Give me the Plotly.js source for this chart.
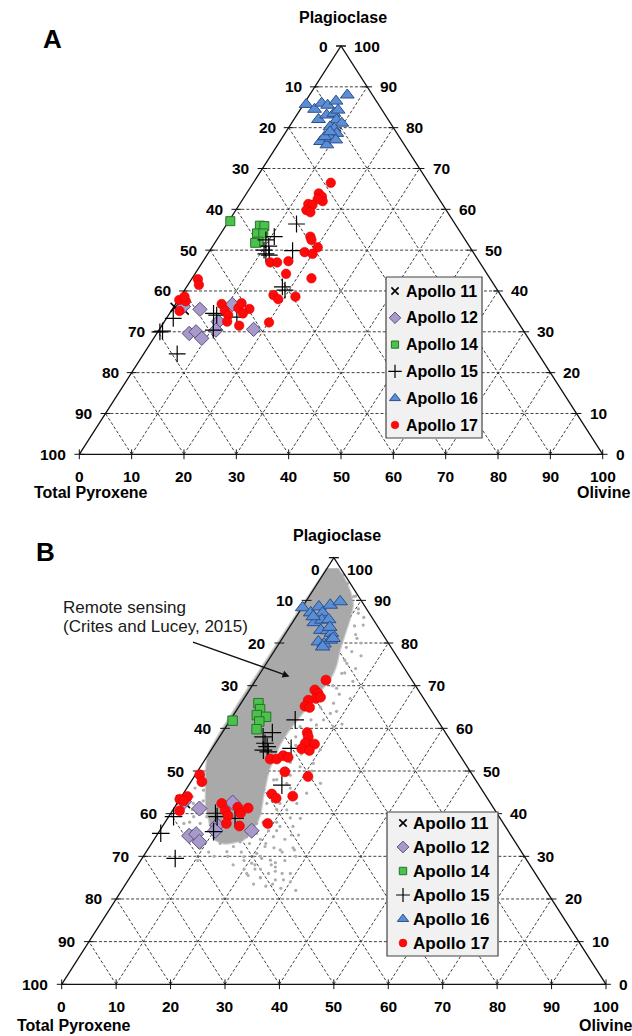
<!DOCTYPE html>
<html><head><meta charset="utf-8">
<script src="https://cdn.plot.ly/plotly-3.0.1.min.js"></script>
<style>html,body{margin:0;padding:0;background:#fff;}#chart{width:632px;height:1036px;}</style>
</head><body><div id="chart"></div>
<script>
// ---------------- DATA ----------------
const gridTicks = [0,10,20,30,40,50,60,70,80,90,100];
const leftTickLabels   = ['0','10','20','30','40','50','60','70','80','90','100'];   // top -> bottom
const rightTickLabels  = ['100','90','80','70','60','50','40','30','20','10','0'];   // top -> bottom
const bottomTickLabels = ['0','10','20','30','40','50','60','70','80','90','100'];   // left -> right
const vertexNames = ['Plagioclase','Total Pyroxene','Olivine'];
const seriesNames = ['Apollo 11','Apollo 12','Apollo 14','Apollo 15','Apollo 16','Apollo 17'];
const panelLetters = ['A','B'];
const rsLabel = ['Remote sensing','(Crites and Lucey, 2015)'];

// Panel A: plagioclase % and olivine % (pyroxene = remainder)
const A_apollo11_plag = [36.0, 35.3];
const A_apollo11_oliv = [0.3, 2.4];
const A_apollo12_plag = [35.5, 29.6, 30.0, 28.4, 32.5, 30.4, 36.7, 30.6, 36.2];
const A_apollo12_oliv = [5.3, 6.2, 7.3, 9.2, 10.3, 10.9, 10.9, 18.0, 1.8];
const A_apollo14_plag = [57.1, 56.0, 55.9, 54.1, 54.1, 52.1, 51.8];
const A_apollo14_oliv = [0.3, 6.5, 7.4, 6.9, 8.1, 8.2, 7.7];
const A_apollo15_plag = [56.4, 53.3, 52.5, 51.0, 50.0, 49.1, 48.8, 49.9, 41.0, 40.2, 33.3, 30.0, 30.2, 24.6, 34.5, 34.1, 30.4, 33.6];
const A_apollo15_oliv = [13.3, 10.6, 9.4, 10.7, 10.3, 11.1, 11.9, 15.8, 18.3, 19.2, 1.3, 0.4, 0.8, 6.4, 8.4, 9.2, 10.4, 13.3];
const A_apollo16_plag = [85.7, 84.5, 86.0, 85.5, 86.5, 88.0, 82.0, 83.1, 83.5, 84.3, 81.9, 81.1, 80.2, 79.8, 78.6, 76.6, 75.8, 77.4, 77.0, 77.8, 79.0];
const A_apollo16_oliv = [0.5, 2.7, 3.3, 4.7, 5.8, 7.2, 4.7, 5.7, 6.9, 7.3, 8.2, 9.6, 7.8, 8.8, 9.9, 7.8, 9.4, 9.3, 10.5, 8.0, 8.4];
const A_apollo17_plag = [66.5, 63.9, 63.1, 62.0, 62.5, 61.3, 61.1, 59.8, 59.3,
  53.3, 52.5, 50.7, 49.5, 49.1, 47.0, 47.0, 47.3, 44.2, 43.1, 39.0, 38.0, 38.6, 32.3,
  42.9, 41.5, 37.8, 37.5, 38.6, 35.1, 36.8, 35.2, 34.1, 32.5, 35.8, 37.0, 35.6, 34.5, 31.5];
const A_apollo17_oliv = [14.8, 13.8, 14.8, 15.5, 14.3, 13.1, 14.0, 13.5, 14.5,
  17.5, 18.1, 20.2, 18.3, 20.0, 13.0, 14.3, 16.3, 17.4, 22.8, 17.6, 19.0, 22.0, 20.1,
  1.2, 2.1, 0.2, 1.6, 0.8, 1.6, 8.8, 10.2, 11.4, 12.0, 12.5, 12.5, 14.7, 14.0, 14.8];

// Panel B
const B_apollo11_plag = [43.2, 42.4];
const B_apollo11_oliv = [0.3, 1.5];
const B_apollo12_plag = [42.6, 41.2, 37.3, 36.0, 34.8, 35.2, 33.4, 36.0, 42.8];
const B_apollo12_oliv = [10.1, 4.7, 9.9, 10.2, 6.0, 7.1, 8.6, 16.9, 1.1];
const B_apollo14_plag = [61.8, 65.9, 64.5, 63.1, 62.7, 61.6, 59.8];
const B_apollo14_oliv = [0.5, 3.2, 4.2, 4.3, 6.2, 5.5, 5.9];
const B_apollo15_plag = [62.0, 58.0, 59.0, 56.5, 55.7, 54.9, 54.5, 55.3, 46.7, 40.1, 39.3, 38.9, 35.8, 39.3, 35.4, 29.5];
const B_apollo15_oliv = [11.9, 8.0, 9.2, 9.1, 9.9, 9.6, 10.7, 14.5, 17.1, 8.2, 8.9, 12.4, 10.0, 0.9, 0.5, 6.1];
const B_apollo16_plag = [88.3, 87.1, 88.5, 87.1, 88.9, 89.7, 84.8, 85.4, 85.5, 83.0, 82.9, 82.3, 83.7, 80.3, 79.8, 80.7, 81.1, 79.1, 86.2];
const B_apollo16_oliv = [0.1, 2.2, 3.0, 4.4, 4.9, 6.3, 4.0, 5.1, 6.3, 6.1, 7.4, 8.4, 7.4, 7.0, 8.3, 9.0, 9.3, 8.4, 3.1];
const B_apollo17_plag = [71.3, 69.0, 68.2, 67.0, 66.6, 65.2, 64.9, 67.3,
  59.0, 58.0, 56.5, 56.3, 55.2, 54.8, 52.8, 52.8, 53.6, 53.2, 49.8, 48.7, 44.6, 43.6, 44.1, 37.7,
  49.1, 47.5, 43.4, 44.0, 43.0, 40.7, 42.4, 40.7, 39.5, 37.7, 41.5, 40.1, 41.3, 37.1];
const B_apollo17_oliv = [12.9, 12.0, 13.0, 13.2, 12.0, 12.1, 13.1, 13.9,
  15.6, 16.3, 16.5, 18.3, 16.5, 18.1, 11.9, 13.1, 13.9, 15.0, 16.1, 20.9, 16.3, 17.6, 20.4, 19.0,
  0.8, 2.0, 0.0, 1.1, 0.9, 1.3, 8.2, 9.7, 10.8, 11.4, 11.6, 12.8, 13.6, 14.1];

// Remote sensing (Crites and Lucey, 2015): dense core outline and scattered outliers
const rsCore_plag = [97.5, 54, 50, 46, 42, 39, 36, 34, 33, 34, 37, 40, 44, 47, 50, 53, 56, 60, 64, 68, 72, 75, 78, 82, 86, 89, 92, 95, 97.5];
const rsCore_oliv = [0, 0, 1.5, 3.5, 5.5, 7.5, 9.5, 11, 13.5, 16.5, 17, 16.5, 15, 14, 13, 12.5, 12, 12, 12.5, 13, 13.5, 13, 12, 11, 10, 9, 7, 4.5, 2];
const rsDots_plag = [90.9, 87.0, 84.2, 81.1, 78.0, 75.2, 72.9, 69.4, 65.9, 63.5, 62.0, 60.4, 60.8, 60.4, 51.8, 51.0, 47.1, 44.8, 42.4, 40.9,
  38.9, 37.0, 35.0, 34.6, 32.3, 31.5, 30.7, 29.1, 28.4, 29.9, 32.3, 34.6, 35.4, 33.4, 31.1, 33.0, 37.7, 40.1, 42.4, 43.2,
  42.4, 47.1, 47.9, 49.5, 47.1, 45.5, 42.4, 37.7, 39.3, 37.7, 39.3, 42.4, 45.5, 27.5, 26.0, 24.5, 29.0, 31.5,
  88, 86, 84, 82, 80, 79, 77, 76, 74, 73, 71, 70, 68, 67, 65, 64, 62, 61, 59, 58, 57, 56, 55, 54, 53, 52, 50, 49, 48, 46,
  45, 44, 43, 41, 39, 38, 36, 35, 34, 33, 32, 31, 30, 29, 28, 27, 26, 25, 23.5, 30, 28, 26,
  53, 51, 49, 48, 46, 44, 43, 41, 40, 38, 36, 35, 34, 32, 31, 30, 29, 94, 91, 96,
  27, 27, 26.5, 26, 25, 24.5, 24, 23, 22.5, 22, 28, 28.5, 29.5, 30, 31, 32, 33, 34, 35, 36, 37, 38, 23.5, 25.5];
const rsDots_oliv = [8.2, 11.0, 13.3, 13.7, 14.3, 14.8, 15.0, 15.8, 17.0, 17.6, 17.1, 19.7, 16.4, 13.6, 20.3, 18.3, 24.0, 22.6, 22.0, 20.9,
  24.4, 21.6, 24.7, 21.6, 21.2, 24.4, 20.5, 23.8, 20.7, 18.5, 15.4, 16.7, 18.1, 16.1, 14.8, 12.6, 17.0, 16.4, 16.5, 13.9,
  18.9, 17.8, 15.0, 13.0, 3.7, 3.3, 3.0, 6.6, 4.6, 3.6, 7.0, 6.0, 5.2, 25.5, 27.5, 28.5, 26.5, 27.0,
  10.5, 12.5, 11.8, 13, 15, 12.8, 16.5, 14, 17, 15.5, 18, 14.8, 17, 19.5, 15, 18.5, 14.8, 21, 16, 14, 18, 15, 20, 17, 14.5, 16, 21, 17.5, 15.5, 19,
  16.5, 20.5, 18, 19, 22.5, 18, 20, 17.5, 19.5, 18, 23, 17.5, 21.5, 19, 24.5, 22, 25, 24, 27, 15.5, 17.5, 21,
  1.2, 3, 2.5, 5, 1.5, 2, 4.5, 3.5, 5.5, 4.5, 6, 8, 7, 9.5, 11.5, 13, 10.5, 5.5, 8.5, 3.8,
  20, 23, 26, 29, 24, 27, 30, 26, 29, 32, 21.5, 25, 22, 28, 25, 26.5, 21, 24, 26, 21.5, 24, 20.5, 23.5, 21.5];

// ---------------- STYLE / LAYOUT ----------------
const FONT = 'Liberation Sans, Arial, Helvetica, sans-serif';
const W = 632, H = 1036;
const styles = [
  {symbol:'x-thin',     size:9,  color:'#000', line:{color:'#000', width:1.6}},
  {symbol:'diamond',    size:11, color:'#a79ac9', line:{color:'#5d4d80', width:1}},
  {symbol:'square',     size:9,  color:'#4dc14d', line:{color:'#267326', width:1}},
  {symbol:'cross-thin', size:12, color:'#000', line:{color:'#000', width:1.2}},
  {symbol:'triangle-up',size:12, color:'#5a8fd5', line:{color:'#2c4e8c', width:1}},
  {symbol:'circle',     size:9.5,color:'#ff0a0a', line:{color:'#e00000', width:0.6}}
];

const panels = [
  {xa:'x', ya:'y', geom:{left:79.3,right:602.7,top:46,bottom:454.3,y0:0,y1:518},
   data:[[A_apollo11_plag,A_apollo11_oliv],[A_apollo12_plag,A_apollo12_oliv],[A_apollo14_plag,A_apollo14_oliv],
         [A_apollo15_plag,A_apollo15_oliv],[A_apollo16_plag,A_apollo16_oliv],[A_apollo17_plag,A_apollo17_oliv]],
   sizeScale:1, remote:false,
   lab:{left:-11,right:11,bottom:-12,topDrop:0,plagY:28.5,plagX:2,pyrX:-47,pyrY:-38,olX:1,olY:-38},
   letter:{x:52,y:39},
   legend:{x0:386,x1:482,y0:277,y1:438,first:291,step:26.8,symX:395,textX:404,font:16,sym:0.8}},
  {xa:'x2', ya:'y2', geom:{left:61.7,right:606,top:557.7,bottom:984.3,y0:518,y1:1036},
   data:[[B_apollo11_plag,B_apollo11_oliv],[B_apollo12_plag,B_apollo12_oliv],[B_apollo14_plag,B_apollo14_oliv],
         [B_apollo15_plag,B_apollo15_oliv],[B_apollo16_plag,B_apollo16_oliv],[B_apollo17_plag,B_apollo17_oliv]],
   sizeScale:1.05, remote:true,
   lab:{left:-12,right:11,bottom:-12,topDrop:-12,plagY:22,plagX:3,pyrX:-47,pyrY:-41,olX:-1,olY:-41},
   letter:{x:45.5,y:551.5},
   legend:{x0:387,x1:498,y0:812,y1:956,first:823,step:24,symX:403,textX:411,font:17,sym:0.82}}
];

function xu(p,o){ return o + p/2; }
const traces = [];
const annotations = [];
const layout = {width:W, height:H, margin:{l:0,r:0,t:0,b:0}, paper_bgcolor:'#fff', plot_bgcolor:'rgba(0,0,0,0)',
  showlegend:false, annotations:annotations};

panels.forEach((pn, k) => {
  const g = pn.geom;
  const sx = (g.right-g.left)/100, sy = (g.bottom-g.top)/100;
  const xs = k===0 ? '' : String(k+1);
  layout['xaxis'+xs] = {domain:[0,1], range:[-g.left/sx, (W-g.left)/sx], visible:false, fixedrange:true, anchor:pn.ya};
  layout['yaxis'+xs] = {domain:[1-g.y1/H, 1-g.y0/H], range:[(g.bottom-g.y1)/sy, (g.bottom-g.y0)/sy], visible:false, fixedrange:true, anchor:pn.xa};

  // grid lines
  const gx=[], gy=[];
  gridTicks.slice(1,-1).forEach(t => {
    gx.push(xu(t,0), xu(t,100-t), null); gy.push(t, t, null);             // constant plagioclase
    gx.push(xu(0,t), xu(100-t,t), null); gy.push(0, 100-t, null);         // constant olivine
    gx.push(xu(0,100-t), xu(100-t,0), null); gy.push(0, 100-t, null);     // constant pyroxene
  });
  traces.push({x:gx, y:gy, xaxis:pn.xa, yaxis:pn.ya, mode:'lines', hoverinfo:'skip',
    line:{color:'#2a2a2a', width:0.9, dash:'3px,2px'}});

  // remote sensing cloud
  if (pn.remote) {
    traces.push({x:rsDots_plag.map((p,i)=>xu(p,rsDots_oliv[i])), y:rsDots_plag, xaxis:pn.xa, yaxis:pn.ya,
      mode:'markers', marker:{size:3.2, color:'#adadad'}, hoverinfo:'skip'});
    traces.push({x:rsCore_plag.map((p,i)=>xu(p,rsCore_oliv[i])), y:rsCore_plag, xaxis:pn.xa, yaxis:pn.ya,
      mode:'lines', fill:'toself', fillcolor:'#a9a9a9', line:{width:2.5, color:'rgba(169,169,169,0.55)', shape:'spline', smoothing:0.6}, hoverinfo:'skip'});
  }

  // triangle edges
  traces.push({x:[xu(0,0), xu(0,100), xu(100,0), xu(0,0)], y:[0,0,100,0], xaxis:pn.xa, yaxis:pn.ya,
    mode:'lines', line:{color:'#111', width:1.3}, hoverinfo:'skip'});
  // tick marks
  traces.push({x:gridTicks.map(t=>xu(0,t)), y:gridTicks.map(()=>0), xaxis:pn.xa, yaxis:pn.ya, mode:'markers',
    marker:{symbol:'line-ns', size:7, line:{color:'#111', width:1}}, hoverinfo:'skip'});
  traces.push({x:gridTicks.map(t=>xu(100-t,0)).concat(gridTicks.map(t=>xu(100-t,t))),
    y:gridTicks.map(t=>100-t).concat(gridTicks.map(t=>100-t)), xaxis:pn.xa, yaxis:pn.ya, mode:'markers',
    marker:{symbol:'line-ew', size:7, line:{color:'#111', width:1}}, hoverinfo:'skip'});

  // data series
  pn.data.forEach((d, i) => {
    const st = styles[i];
    traces.push({name:seriesNames[i], x:d[0].map((p,j)=>xu(p,d[1][j])), y:d[0], xaxis:pn.xa, yaxis:pn.ya,
      mode:'markers', marker:{symbol:st.symbol, size:st.size*pn.sizeScale, color:st.color,
      line:{color:st.line.color, width:st.line.width}}, hoverinfo:'skip'});
  });

  // tick labels
  const L = pn.lab;
  const f15 = {family:FONT, size:15.5, color:'#000'};
  gridTicks.forEach((t, i) => {
    const p = 100 - t;
    annotations.push({xref:pn.xa, yref:pn.ya, x:xu(p,0), y:p, text:'<b>'+leftTickLabels[i]+'</b>', showarrow:false,
      xanchor:'right', yanchor:'middle', xshift:L.left, yshift:(i===0?L.topDrop:0), font:f15});
    annotations.push({xref:pn.xa, yref:pn.ya, x:xu(p,100-p), y:p, text:'<b>'+rightTickLabels[i]+'</b>', showarrow:false,
      xanchor:'left', yanchor:'middle', xshift:L.right, yshift:(i===0?L.topDrop:0), font:f15});
    annotations.push({xref:pn.xa, yref:pn.ya, x:xu(0,t), y:0, text:'<b>'+bottomTickLabels[i]+'</b>', showarrow:false,
      xanchor:'center', yanchor:'top', yshift:L.bottom, font:f15});
  });
  const f16 = {family:FONT, size:16, color:'#000'};
  annotations.push({xref:pn.xa, yref:pn.ya, x:xu(100,0), y:100, text:'<b>'+vertexNames[0]+'</b>', showarrow:false,
    xanchor:'center', yanchor:'middle', xshift:L.plagX, yshift:L.plagY, font:f16});
  annotations.push({xref:pn.xa, yref:pn.ya, x:xu(0,0), y:0, text:'<b>'+vertexNames[1]+'</b>', showarrow:false,
    xanchor:'left', yanchor:'middle', xshift:L.pyrX, yshift:L.pyrY, font:f16});
  annotations.push({xref:pn.xa, yref:pn.ya, x:xu(0,100), y:0, text:'<b>'+vertexNames[2]+'</b>', showarrow:false,
    xanchor:'center', yanchor:'middle', xshift:L.olX, yshift:L.olY, font:f16});
  // panel letter
  annotations.push({xref:'x3', yref:'y3', x:pn.letter.x, y:pn.letter.y, text:'<b>'+panelLetters[k]+'</b>', showarrow:false,
    xanchor:'center', yanchor:'middle', font:{family:FONT, size:26, color:'#000'}});

  // custom legend (box + symbols + labels) on pixel overlay axes
  const lg = pn.legend;
  traces.push({x:[lg.x0,lg.x1,lg.x1,lg.x0,lg.x0], y:[lg.y0,lg.y0,lg.y1,lg.y1,lg.y0], xaxis:'x3', yaxis:'y3',
    mode:'lines', fill:'toself', fillcolor:'#f1f1f1', line:{color:'#444', width:1.2}, hoverinfo:'skip'});
  styles.forEach((st, i) => {
    const yy = lg.first + i*lg.step;
    traces.push({x:[lg.symX], y:[yy], xaxis:'x3', yaxis:'y3', mode:'markers', hoverinfo:'skip',
      marker:{symbol:st.symbol, size:st.size*lg.sym, color:st.color, line:{color:st.line.color, width:st.line.width}}});
    annotations.push({xref:'x3', yref:'y3', x:lg.textX, y:yy, text:'<b>'+seriesNames[i]+'</b>', showarrow:false,
      xanchor:'left', yanchor:'middle', font:{family:FONT, size:lg.font, color:'#000'}});
  });
});

layout.xaxis3 = {domain:[0,1], range:[0,W], visible:false, fixedrange:true, anchor:'y3'};
layout.yaxis3 = {domain:[0,1], range:[H,0], visible:false, fixedrange:true, anchor:'x3'};

// Remote sensing label and arrow (panel B)
annotations.push({xref:'x3', yref:'y3', x:61, y:607, text:rsLabel[0], showarrow:false, xanchor:'left', yanchor:'middle',
  font:{family:FONT, size:17, color:'#1a1a1a'}});
annotations.push({xref:'x3', yref:'y3', x:61, y:626.5, text:rsLabel[1], showarrow:false, xanchor:'left', yanchor:'middle',
  font:{family:FONT, size:17, color:'#1a1a1a'}});
annotations.push({xref:'x3', yref:'y3', axref:'x3', ayref:'y3', x:289.5, y:676.5, ax:191.5, ay:641.5, text:'',
  showarrow:true, arrowhead:2, arrowsize:1, arrowwidth:1.4, arrowcolor:'#111', standoff:0, startstandoff:0});

Plotly.newPlot('chart', traces, layout, {staticPlot:true, displayModeBar:false});
</script>
</body></html>
